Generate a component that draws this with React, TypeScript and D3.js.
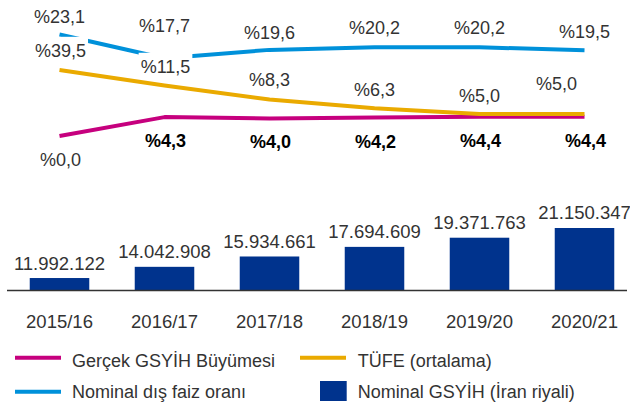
import React, { useRef, useEffect } from "react";
import * as d3 from "d3";

// fiscal years
const years = ["2015/16", "2016/17", "2017/18", "2018/19", "2019/20", "2020/21"];

// Nominal GDP (Iranian rial)
const nominalGdp = [11992122, 14042908, 15934661, 17694609, 19371763, 21150347];

// percentages
const realGrowth = [0.0, 4.3, 4.0, 4.2, 4.4, 4.4];
const cpiAvg = [39.5, 11.5, 8.3, 6.3, 5.0, 5.0];
const foreignRate = [23.1, 17.7, 19.6, 20.2, 20.2, 19.5];

// the first CPI point is drawn cut off at this level in the original
const cpiPlotCap = 15;

const legendItems = [
  { label: "Gerçek GSYİH Büyümesi", color: "#C6007E", kind: "line" },
  { label: "TÜFE (ortalama)", color: "#EAAA00", kind: "line" },
  { label: "Nominal dış faiz oranı", color: "#0091DA", kind: "line" },
  { label: "Nominal GSYİH (İran riyali)", color: "#00338D", kind: "box" },
];

const width = 630;
const height = 409;
const FONT = "'Liberation Sans', Arial, sans-serif";

const trLocale = d3.formatLocale({
  decimal: ",",
  thousands: ".",
  grouping: [3],
  currency: ["", ""],
});
const fmtInt = trLocale.format(",d");
const fmtPct = (v: number) => "%" + v.toFixed(1).replace(".", ",");

const App: React.FC = () => {
  const svgRef = useRef<SVGSVGElement | null>(null);

  useEffect(() => {
    if (!svgRef.current) return;
    const svg = d3.select(svgRef.current);
    svg.selectAll("*").remove();

    const x = d3
      .scaleBand<string>()
      .domain(years)
      .range([7, 637])
      .paddingInner(0.433)
      .paddingOuter(0.2165);
    const cx = (i: number) => (x(years[i]) as number) + x.bandwidth() / 2;

    const baseY = 290;
    const yBar = d3.scaleLinear().domain([9.8e6, 21.15e6]).range([baseY, 228]);
    const yLine = d3.scaleLinear().domain([0, 23.1]).range([136, 34.5]);

    // bars
    svg
      .append("g")
      .selectAll("rect")
      .data(nominalGdp)
      .enter()
      .append("rect")
      .attr("x", (_, i) => x(years[i]) as number)
      .attr("y", (d) => yBar(d))
      .attr("width", x.bandwidth())
      .attr("height", (d) => baseY - yBar(d))
      .attr("fill", "#00338D");

    svg
      .append("g")
      .selectAll("text")
      .data(nominalGdp)
      .enter()
      .append("text")
      .attr("x", (_, i) => cx(i))
      .attr("y", (d) => yBar(d) - 8.5)
      .attr("text-anchor", "middle")
      .attr("font-family", FONT)
      .attr("font-size", 18.5)
      .attr("fill", "#333")
      .text((d) => fmtInt(d));

    // baseline
    svg
      .append("line")
      .attr("x1", 7)
      .attr("x2", 627)
      .attr("y1", baseY + 0.5)
      .attr("y2", baseY + 0.5)
      .attr("stroke", "#333")
      .attr("stroke-width", 1.5);

    // category labels
    svg
      .append("g")
      .selectAll("text")
      .data(years)
      .enter()
      .append("text")
      .attr("x", (_, i) => cx(i))
      .attr("y", 328.3)
      .attr("text-anchor", "middle")
      .attr("font-family", FONT)
      .attr("font-size", 18.5)
      .attr("fill", "#333")
      .text((d) => d);

    // lines
    const line = d3
      .line<number>()
      .x((_, i) => cx(i))
      .y((d) => yLine(d));

    const series = [
      { plot: realGrowth, color: "#C6007E" },
      { plot: cpiAvg.map((v) => Math.min(v, cpiPlotCap)), color: "#EAAA00" },
      { plot: foreignRate, color: "#0091DA" },
    ];

    series.forEach((s) => {
      svg
        .append("path")
        .attr("d", line(s.plot) as string)
        .attr("fill", "none")
        .attr("stroke", s.color)
        .attr("stroke-width", 4)
        .attr("stroke-linejoin", "round");
    });

    // value labels (white boxes behind, as in the original)
    const labelLayer = svg.append("g");
    const addLabel = (tx: number, ty: number, txt: string, bold: boolean) => {
      const g = labelLayer.append("g");
      const t = g
        .append("text")
        .attr("x", tx)
        .attr("y", ty)
        .attr("text-anchor", "middle")
        .attr("font-family", FONT)
        .attr("font-size", 18)
        .attr("font-weight", bold ? "bold" : "normal")
        .attr("fill", bold ? "#000" : "#333")
        .text(txt);
      const bb = (t.node() as SVGTextElement).getBBox();
      g.insert("rect", "text")
        .attr("x", bb.x - 2)
        .attr("y", bb.y - 4)
        .attr("width", bb.width + 4)
        .attr("height", bb.height + 4)
        .attr("fill", "#fff");
    };

    // blue above the line
    const blueDy = [-12, -26.5, -11, -12.8, -12.8, -12];
    foreignRate.forEach((v, i) =>
      addLabel(cx(i), yLine(v) + blueDy[i], fmtPct(v), false)
    );
    // yellow above the line
    const yellowDx = [1, 1, 0, 0, 0, -28];
    const yellowDy = [-13.3, -12.7, -13.5, -12.3, -12.3, -24];
    cpiAvg.forEach((v, i) =>
      addLabel(
        cx(i) + yellowDx[i],
        yLine(Math.min(v, cpiPlotCap)) + yellowDy[i],
        fmtPct(v),
        false
      )
    );
    // pink below the line, bold except first
    realGrowth.forEach((v, i) =>
      addLabel(cx(i) + 1, yLine(v) + 30, fmtPct(v), i > 0)
    );

    // legend
    const legendPos = [
      { x: 15, y: 357.7, ty: 366.7 },
      { x: 300, y: 357.7, ty: 366.7 },
      { x: 15, y: 391.7, ty: 398.3 },
      { x: 320, y: 391, ty: 398.3 },
    ];
    legendItems.forEach((item, i) => {
      const p = legendPos[i];
      if (item.kind === "line") {
        svg
          .append("line")
          .attr("x1", p.x)
          .attr("x2", p.x + 46)
          .attr("y1", p.y)
          .attr("y2", p.y)
          .attr("stroke", item.color)
          .attr("stroke-width", 4);
      } else {
        svg
          .append("rect")
          .attr("x", p.x)
          .attr("y", p.y - 10)
          .attr("width", 26.7)
          .attr("height", 20)
          .attr("fill", item.color);
      }
      svg
        .append("text")
        .attr("x", i % 2 === 0 ? 72 : 357.7)
        .attr("y", p.ty)
        .attr("font-family", FONT)
        .attr("font-size", 18)
        .attr("fill", "#333")
        .text(item.label);
    });
  }, []);

  return (
    <svg
      ref={svgRef}
      width={width}
      height={height}
      style={{ position: "absolute", left: 0, top: 0, background: "#fff" }}
    />
  );
};

export default App;
